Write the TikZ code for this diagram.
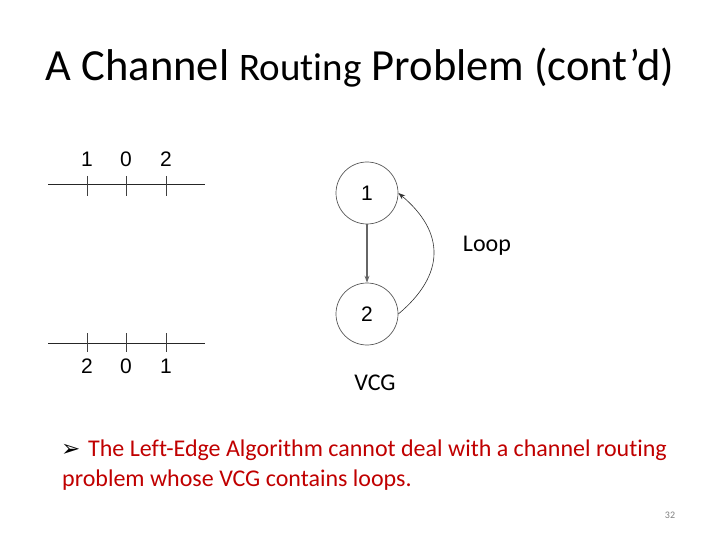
\documentclass[tikz,border=0pt]{standalone}
\usepackage{fontspec}
\setmainfont[Ligatures=NoCommon]{Carlito}
\newfontfamily\arialfont{Liberation Sans}
\newfontfamily\symfont{DejaVu Sans}
\usetikzlibrary{arrows.meta}
\definecolor{slidered}{RGB}{192,0,0}
\tikzset{
  vertex/.style={circle, draw=black!65, line width=0.7pt, minimum size=62pt, inner sep=0pt, font=\arialfont\fontsize{21}{25}\selectfont},
  pin/.style={font=\arialfont\fontsize{21}{25}\selectfont, inner sep=0pt},
  track/.style={line width=0.8pt, draw=black!85},
  tick/.style={line width=0.8pt, draw=black!75},
  edge/.style={-{Stealth[length=7pt,width=5pt]}}
}
\begin{document}
\begin{tikzpicture}[x=1pt,y=-1pt]
  \useasboundingbox (0,0) rectangle (720,540);
  % title
  \node[font=\fontsize{44.5}{52}\selectfont, inner sep=0pt] (title) at (360,68)
    {A Channel {\fontsize{39}{46}\selectfont Routing} Problem (cont’d)};
  % top channel row
  \draw[track] (48,184) -- (205,184);
  \foreach \x/\n/\lab in {87/t1/1,126/t0/0,166/t2/2} {
    \draw[tick] (\x,176) -- (\x,196);
    \node[pin] (\n) at (\x,159) {\lab};
  }
  % bottom channel row
  \draw[track] (48,343) -- (205,343);
  \foreach \x/\n/\lab in {87/b2/2,126/b0/0,166/b1/1} {
    \draw[tick] (\x,333) -- (\x,352);
    \node[pin] (\n) at (\x,366) {\lab};
  }
  % VCG
  \node[vertex] (v1) at (367,193) {1};
  \node[vertex] (v2) at (367,314) {2};
  \draw[edge, draw=black!60, line width=1.1pt] (v1) -- (v2);
  \draw[edge, draw=black!80, line width=0.6pt] (v2.east) to[out=40, in=-40, looseness=1.3] (v1.east);
  \node[font=\fontsize{24}{28}\selectfont] (loop) at (487,246) {Loop};
  \node[font=\fontsize{24}{28}\selectfont] (vcg) at (375,383) {VCG};
  % remark
  \node[anchor=west, inner sep=0pt] (bul) at (61,450) {\symfont\fontsize{23}{26}\selectfont ➢};
  \node[anchor=west, inner sep=0pt, text=slidered, font=\fontsize{24}{28}\selectfont] (rem1) at (88,450)
    {The Left-Edge Algorithm cannot deal with a channel routing};
  \node[anchor=west, inner sep=0pt, text=slidered, font=\fontsize{24}{28}\selectfont] (rem2) at (62,480)
    {problem whose VCG contains loops.};
  \node[text=gray, font=\fontsize{10}{12}\selectfont, inner sep=0pt] (page) at (670,515) {32};
\end{tikzpicture}
\end{document}
